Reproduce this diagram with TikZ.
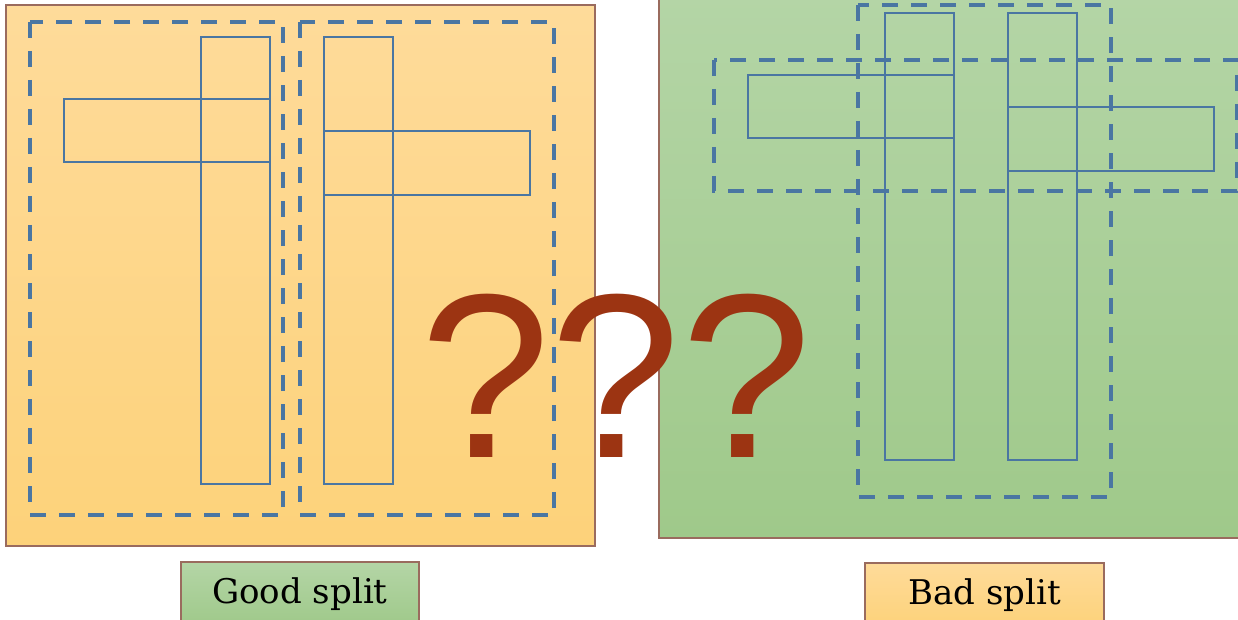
\documentclass[tikz,border=0pt]{standalone}
\usepackage{fontspec}
\setmainfont{DejaVu Serif}
\newfontfamily\qfont{Liberation Sans}
\usepackage{xcolor}
\definecolor{PanelEdge}{HTML}{9A6B5E}
\definecolor{SandTop}{HTML}{FEDB9A}
\definecolor{SandBot}{HTML}{FDD27A}
\definecolor{LeafTop}{HTML}{B4D5A6}
\definecolor{LeafBot}{HTML}{9FC98A}
\definecolor{BoxBlue}{HTML}{4A76A2}
\definecolor{Rust}{HTML}{9C3412}

\begin{document}
\begin{tikzpicture}[
    x=1pt, y=-1pt,
    % panel backgrounds
    sand/.style={
        draw=PanelEdge,
        line width=1.5pt,
        top color=SandTop,
        bottom color=SandBot
    },
    leaf/.style={
        draw=PanelEdge,
        line width=1.5pt,
        top color=LeafTop,
        bottom color=LeafBot
    },
    % bounding groups and glyph bars
    group/.style={
        draw=BoxBlue,
        line width=4.5pt,
        dash pattern=on 16pt off 13pt
    },
    bar/.style={
        draw=BoxBlue,
        line width=2.5pt
    },
    % caption boxes under the panels
    caption/.style={
        rectangle,
        draw=PanelEdge,
        line width=1.5pt,
        inner sep=0pt,
        minimum height=64pt,
        font=\fontsize{34}{40}\selectfont,
        text=black
    }
]

    \useasboundingbox (0,0) rectangle (1238,620);

    % --- Left panel ---
    \draw[sand] (6,5) rectangle (595,546);

    \draw[group] (30,22) rectangle (283,515);
    \draw[group] (300,22) rectangle (554,515);

    \draw[bar] (201,37) rectangle (270,484);
    \draw[bar] (64,99) rectangle (270,162);
    \draw[bar] (324,37) rectangle (393,484);
    \draw[bar] (324,131) rectangle (530,195);

    % --- Right panel ---
    \draw[leaf] (659,-5) rectangle (1245,538);

    \draw[group] (858,5) rectangle (1111,497);
    \draw[group] (714,60) rectangle (1237,191);

    \draw[bar] (885,13) rectangle (954,460);
    \draw[bar] (748,75) rectangle (954,138);
    \draw[bar] (1008,13) rectangle (1077,460);
    \draw[bar] (1008,107) rectangle (1214,171);

    % --- Question marks on top ---
    \node[anchor=base, inner sep=0pt, text=Rust,
          font=\qfont\fontsize{234}{234}\selectfont] (qmarks) at (616,457) {???};

    % --- Captions ---
    \node[caption, minimum width=238pt, top color=LeafTop, bottom color=LeafBot,
          anchor=north] (good) at (300,561) {Good split};
    \node[caption, minimum width=239pt, top color=SandTop, bottom color=SandBot,
          anchor=north] (bad) at (984.5,562) {Bad split};

\end{tikzpicture}
\end{document}
